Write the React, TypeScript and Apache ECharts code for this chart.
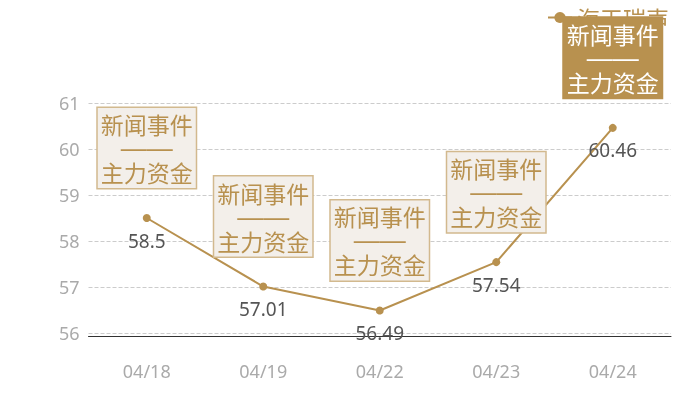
import React, { useEffect, useRef } from "react";
import * as echarts from "echarts";

const categories = ["04/18", "04/19", "04/22", "04/23", "04/24"];
const values = [58.5, 57.01, 56.49, 57.54, 60.46];
const seriesName = "海天瑞声";
const boxLines = ["新闻事件", "——", "主力资金"];
const highlightIndex = 4;

const GOLD = "#b8914f";

export default function App() {
  const ref = useRef<HTMLDivElement>(null);
  useEffect(() => {
    if (!ref.current) return;
    const chart = echarts.init(ref.current, null, { renderer: "svg" });
    const font = '"Noto Sans", "Noto Sans CJK SC", sans-serif';
    const cjk = '"Noto Sans CJK SC", sans-serif';
    chart.setOption({
      animation: false,
      textStyle: { fontFamily: font },
      legend: {
        data: [seriesName],
        top: 1,
        right: 26,
        itemWidth: 24,
        textStyle: { color: GOLD, fontSize: 23, fontFamily: cjk },
      },
      grid: { left: 88.5, right: 29, top: 103, bottom: 67, containLabel: false },
      xAxis: {
        type: "category",
        data: categories,
        offset: 3,
        axisLine: { show: true, lineStyle: { color: "#333", width: 1 } },
        axisTick: { show: false },
        axisLabel: { color: "#aaa", fontSize: 18, margin: 26 },
        splitLine: { show: false },
      },
      yAxis: {
        type: "value",
        min: 56,
        max: 61,
        interval: 1,
        axisLine: { show: false },
        axisTick: { show: false },
        axisLabel: { color: "#aaa", fontSize: 18, margin: 9 },
        splitLine: { show: true, lineStyle: { type: "dashed", color: "#ccc" } },
      },
      series: [
        {
          name: seriesName,
          type: "line",
          data: values,
          symbol: "circle",
          symbolSize: 8,
          itemStyle: { color: GOLD },
          lineStyle: { color: GOLD, width: 2 },
          label: {
            show: true,
            position: "bottom",
            distance: 9,
            color: "#555",
            fontSize: 19,
          },
          markPoint: {
            symbol: "circle",
            symbolSize: 0,
            data: values.map((v, i) => {
              const hi = i === highlightIndex;
              const c = hi ? "#fff" : GOLD;
              return {
                coord: [i, v],
                label: {
                  show: true,
                  position: "top",
                  distance: 30,
                  formatter: `{t|${boxLines[0]}}\n{d|${boxLines[1]}}\n{t|${boxLines[2]}}`,
                  backgroundColor: hi ? GOLD : "#f3efea",
                  borderColor: hi ? GOLD : "#d2b98e",
                  borderWidth: 1.5,
                  padding: [4, 3, 4, 3],
                  align: "center",
                  rich: {
                    t: { fontFamily: cjk, fontSize: 23, lineHeight: 24, color: c },
                    d: { fontFamily: '"Liberation Sans", sans-serif', fontSize: 26, lineHeight: 24, color: c },
                  },
                },
              };
            }),
          },
        },
      ],
    });
    return () => chart.dispose();
  }, []);
  return (
    <div
      ref={ref}
      lang="zh-CN"
      style={{ position: "fixed", left: 0, top: 0, width: 700, height: 400 }}
    />
  );
}
